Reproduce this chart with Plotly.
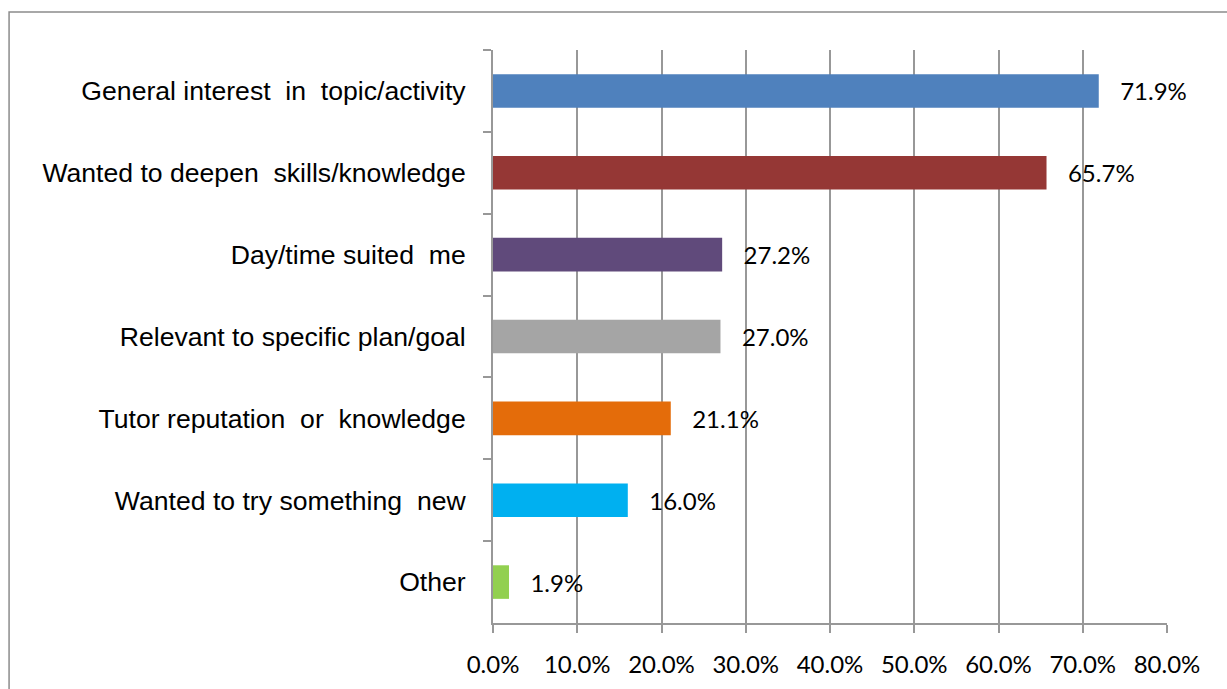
import plotly.graph_objects as go

categories = [
    "General interest  in  topic/activity",
    "Wanted to deepen  skills/knowledge",
    "Day/time suited  me",
    "Relevant to specific plan/goal",
    "Tutor reputation  or  knowledge",
    "Wanted to try something  new",
    "Other",
]
values = [71.9, 65.7, 27.2, 27.0, 21.1, 16.0, 1.9]
colors = ["#4F81BD", "#953735", "#604A7B", "#A5A5A5", "#E46C0A", "#00B0F0", "#92D050"]
x_ticks = [0, 10, 20, 30, 40, 50, 60, 70, 80]
x_tick_labels = [f"{v:.1f}%" for v in x_ticks]

GRID = "#989898"
NB = "\u00a0"

fig = go.Figure(
    go.Bar(
        x=values,
        y=categories,
        orientation="h",
        marker=dict(color=colors, line=dict(width=0)),
        texttemplate=NB * 3 + "%{x:.1f}%",
        textposition="outside",
        textfont=dict(family="Lato, Carlito, sans-serif", size=24, color="#000000"),
        cliponaxis=False,
        constraintext="none",
        width=0.41,
    )
)

fig.update_layout(
    width=1227,
    height=689,
    margin=dict(l=493, r=60, t=50, b=66),
    paper_bgcolor="#FFFFFF",
    plot_bgcolor="#FFFFFF",
    showlegend=False,
    xaxis=dict(
        range=[0, 80],
        tickvals=x_ticks,
        ticktext=x_tick_labels,
        showgrid=True,
        gridcolor=GRID,
        gridwidth=2,
        zeroline=False,
        showline=True,
        linecolor=GRID,
        linewidth=2,
        ticks="outside",
        ticklen=8,
        tickwidth=2,
        tickcolor=GRID,
        ticklabelstandoff=11,
        tickfont=dict(family="Lato, Carlito, sans-serif", size=24, color="#000000"),
    ),
    yaxis=dict(
        type="category",
        categoryorder="array",
        categoryarray=categories,
        autorange="reversed",
        showgrid=False,
        zeroline=False,
        showline=True,
        linecolor=GRID,
        linewidth=2,
        ticks="outside",
        tickson="boundaries",
        ticklen=8,
        tickwidth=2,
        tickcolor=GRID,
        ticklabelstandoff=20,
        tickfont=dict(family="Liberation Sans, Arial, sans-serif", size=26.6, color="#000000"),
    ),
    shapes=[
        dict(
            type="rect",
            xref="paper",
            yref="paper",
            x0=-0.718,
            x1=1.3,
            y0=-0.3,
            y1=1.0663,
            line=dict(color="#8C8C8C", width=1.5),
            fillcolor="rgba(0,0,0,0)",
            layer="below",
        )
    ],
)

fig.write_html("out.html")
